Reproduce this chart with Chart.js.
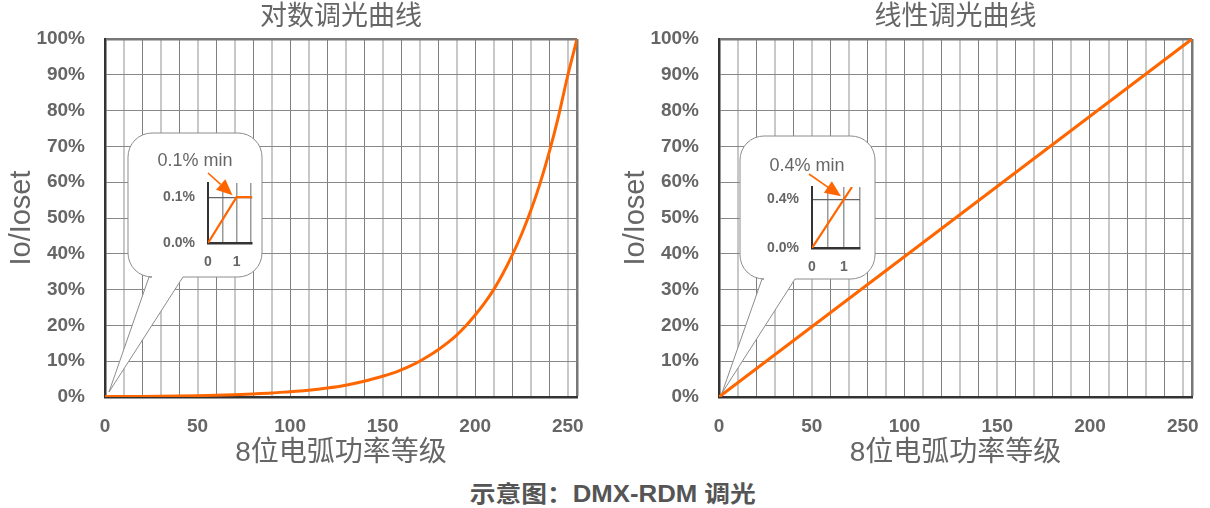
<!DOCTYPE html>
<html><head><meta charset="utf-8">
<script src="https://cdn.jsdelivr.net/npm/chart.js@4.4.0/dist/chart.umd.min.js"></script>
<style>
html,body{margin:0;padding:0;background:#fff;width:1210px;height:508px;overflow:hidden;}
.box{position:absolute;}
#caption{position:absolute;left:8px;width:1210px;top:475px;text-align:center;color:#555;line-height:28px;}
#caption span{display:inline-block;font:bold 23px "Liberation Sans","Noto Sans CJK SC",sans-serif;transform:scaleX(1.12);transform-origin:center;}
</style></head><body>
<div class="box" style="left:0;top:0;"><canvas id="c1" width="600" height="470"></canvas></div>
<div class="box" style="left:614px;top:0;"><canvas id="c2" width="596" height="470"></canvas></div>
<div class="box" style="left:128px;top:133px;"><canvas id="i1" width="134" height="144"></canvas></div>
<div class="box" style="left:740px;top:136px;"><canvas id="i2" width="135" height="143"></canvas></div>
<div id="caption"><span>示意图：DMX-RDM 调光</span></div>
<script>
// ---- data ----
const logLevels = [0,10,20,30,40,50,60,70,80,90,100,110,120,130,140,150,155,160,165,170,175,180,185,190,195,200,205,210,215,220,225,230,235,240,245,250,255];
const logValues = [0.1,0.13,0.17,0.22,0.29,0.38,0.5,0.65,0.85,1.1,1.5,1.9,2.5,3.3,4.4,5.8,6.6,7.6,8.7,10,11.5,13.2,15.1,17.3,19.9,22.9,26.2,30,34.5,39.6,45.4,52,59.6,68.4,78.4,89.8,100];
const linLevels = [0,255];
const linValues = [0,100];
const xTickLabels = [0,50,100,150,200,250];
const insetLogX = [0,1,1.55];
const insetLogY = [0,0.1,0.1];
const insetLinX = [0,1,1.25];
const insetLinY = [0,0.4,0.5];
const insetXLabels = [0,1];
const titles = ['对数调光曲线','线性调光曲线'];
const insetNotes = ['0.1% min','0.4% min'];

const ORANGE = '#ff6600';
const LAT = '"Liberation Sans", Arial, "Noto Sans CJK SC", sans-serif';
const TXT = '#666666';

function pts(xs, ys){ return xs.map((x,i)=>({x:x,y:ys[i]})); }

const bubbles = [
  {l:128,t:133,r:262,b:277,tl:149,tr:183,dx:4,dy:-5},
  {l:126,t:136,r:261,b:279,tl:148,tr:181,dx:3,dy:-4}
];

function bubblePlugin(idx){
  return {id:'bubble'+idx, beforeDatasetsDraw(chart){
    const b = bubbles[idx]; const ctx = chart.ctx;
    const tx = chart.scales.x.getPixelForValue(0)+b.dx;
    const ty = chart.scales.y.getPixelForValue(0)+b.dy;
    const rad = 24;
    ctx.save();
    ctx.beginPath();
    ctx.moveTo(b.l+rad,b.t);
    ctx.lineTo(b.r-rad,b.t); ctx.arcTo(b.r,b.t,b.r,b.t+rad,rad);
    ctx.lineTo(b.r,b.b-rad); ctx.arcTo(b.r,b.b,b.r-rad,b.b,rad);
    ctx.lineTo(b.tr,b.b); ctx.lineTo(tx,ty); ctx.lineTo(b.tl,b.b);
    ctx.lineTo(b.l+rad,b.b); ctx.arcTo(b.l,b.b,b.l,b.b-rad,rad);
    ctx.lineTo(b.l,b.t+rad); ctx.arcTo(b.l,b.t,b.l+rad,b.t,rad);
    ctx.closePath();
    ctx.fillStyle='#fff'; ctx.fill();
    ctx.strokeStyle='#8c8c8c'; ctx.lineWidth=1; ctx.stroke();
    ctx.restore();
  }};
}
function titlePlugin(idx){
  return {id:'ttl'+idx, afterDraw(chart){
    const ctx=chart.ctx, a=chart.chartArea;
    ctx.save();
    ctx.font='27px "Liberation Sans","Noto Sans CJK SC",sans-serif';
    ctx.fillStyle=TXT; ctx.textAlign='center'; ctx.textBaseline='middle';
    ctx.fillText(titles[idx],(a.left+a.right)/2,18);
    ctx.restore();
  }};
}

function mainChart(id, idx, xs, ys, padRight){
  return new Chart(document.getElementById(id), {
    type:'line',
    data:{datasets:[{data:pts(xs,ys), borderColor:ORANGE, borderWidth:3, pointRadius:0, fill:false,
      cubicInterpolationMode:'monotone'}]},
    options:{
      responsive:false, animation:false, devicePixelRatio:1,
      layout:{padding:{top:39,right:padRight,left:0,bottom:0}},
      plugins:{legend:{display:false},tooltip:{enabled:false},title:{display:false}},
      scales:{
        x:{type:'linear',min:0,max:255,
          afterFit(s){ s.height=73; },
          afterBuildTicks(s){ const t=[]; for(let v=0; v<=250; v+=10) t.push({value:v}); t.push({value:255}); s.ticks=t; },
          ticks:{autoSkip:false,maxRotation:0,padding:18,color:TXT,
            font:{family:LAT,size:19,weight:'bold'},
            callback:(v)=> xTickLabels.includes(v)? String(v):''},
          grid:{drawTicks:false,
            color:(c)=>{const v=c.tick.value; if(v===255) return '#777'; return (v/10)%2===1?'#c8c8c8':'#7f7f7f';},
            lineWidth:(c)=>{const v=c.tick.value; if(v===255) return 2.5; return (v/10)%2===1?2:1;}},
          border:{color:'#333',width:2.5},
          title:{display:true,text:'8位电弧功率等级',color:TXT,padding:{top:2,bottom:0},
            font:{family:'"Liberation Sans","Noto Sans CJK SC",sans-serif',size:28}}
        },
        y:{min:0,max:100,
          afterFit(s){ s.width=105; },
          ticks:{stepSize:10,padding:20,color:TXT,font:{family:LAT,size:19,weight:'bold'},
            callback:(v)=>v+'%'},
          grid:{drawTicks:false,
            color:(c)=> c.tick.value===100?'#777':'#888',
            lineWidth:(c)=> c.tick.value===100?2.5:1},
          border:{color:'#333',width:2.5},
          title:{display:true,text:'Io/Ioset',color:TXT,padding:{top:5,bottom:0},
            font:{family:LAT,size:29}}
        }
      }
    },
    plugins:[bubblePlugin(idx),titlePlugin(idx)]
  });
}

function arrow(ctx,x0,y0,x1,y1){
  const a=Math.atan2(y1-y0,x1-x0), c=Math.cos(a), s=Math.sin(a), hl=16, hw=7;
  ctx.save();
  ctx.strokeStyle=ORANGE; ctx.fillStyle=ORANGE; ctx.lineWidth=1.6;
  ctx.beginPath(); ctx.moveTo(x0,y0); ctx.lineTo(x1-hl*c,y1-hl*s); ctx.stroke();
  ctx.beginPath(); ctx.moveTo(x1,y1);
  ctx.lineTo(x1-hl*c-hw*s, y1-hl*s+hw*c);
  ctx.lineTo(x1-hl*c+hw*s, y1-hl*s-hw*c);
  ctx.closePath(); ctx.fill();
  ctx.restore();
}

function insetChart(id, idx, xs, ys, cfg){
  return new Chart(document.getElementById(id), {
    type:'line',
    data:{datasets:[{data:pts(xs,ys), borderColor:ORANGE, borderWidth:2.2, pointRadius:0, tension:0, fill:false}]},
    options:{
      responsive:false, animation:false, devicePixelRatio:1,
      layout:{padding:{top:cfg.top,right:cfg.right,left:0,bottom:0}},
      plugins:{legend:{display:false},tooltip:{enabled:false}},
      scales:{
        x:{type:'linear',min:0,max:cfg.xmax,
          afterFit(s){ s.height=cfg.xh; },
          afterBuildTicks(s){ s.ticks=[0,0.5,1,1.5].map(v=>({value:v})); },
          ticks:{autoSkip:false,maxRotation:0,padding:11,color:TXT,font:{family:LAT,size:14,weight:'bold'},
            callback:(v)=> insetXLabels.includes(v)? String(v):''},
          grid:{drawTicks:false,color:'#9a9a9a',lineWidth:1.5},
          border:{color:'#333',width:2.5}
        },
        y:{min:0,max:cfg.ymax,
          afterFit(s){ s.width=cfg.yw; },
          afterBuildTicks(s){ s.ticks=[0,cfg.ytick].map(v=>({value:v})); },
          ticks:{padding:13,color:TXT,font:{family:LAT,size:14,weight:'bold'},
            callback:(v)=> v.toFixed(1)+'%'},
          grid:{drawTicks:false,color:(c)=>c.tick.value===0?'rgba(0,0,0,0)':'#666',lineWidth:1.2},
          border:{color:'#333',width:2}
        }
      }
    },
    plugins:[{id:'note'+idx, afterDraw(chart){
      const ctx=chart.ctx;
      ctx.save();
      ctx.font='18px '+LAT; ctx.fillStyle=TXT; ctx.textAlign='center'; ctx.textBaseline='middle';
      ctx.fillText(insetNotes[idx], cfg.tx, cfg.ty);
      ctx.restore();
      const px=chart.scales.x.getPixelForValue(1)+cfg.adx;
      const py=chart.scales.y.getPixelForValue(cfg.ytick)+cfg.ady;
      arrow(ctx, cfg.ax, cfg.ay, px, py);
    }}]
  });
}

mainChart('c1',0,logLevels,logValues,23);
mainChart('c2',1,linLevels,linValues,18);
insetChart('i1',0,insetLogX,insetLogY,{top:50,right:6,yw:80,xh:34,xmax:1.55,ymax:0.131,ytick:0.1,
  tx:67,ty:28,ax:80,ay:40,adx:-4,ady:-2});
insetChart('i2',1,insetLinX,insetLinY,{top:51,right:15,yw:72,xh:31,xmax:1.5,ymax:0.5,ytick:0.4,
  tx:67,ty:30,ax:69,ay:38,adx:-3,ady:-3});
</script>
</body></html>
